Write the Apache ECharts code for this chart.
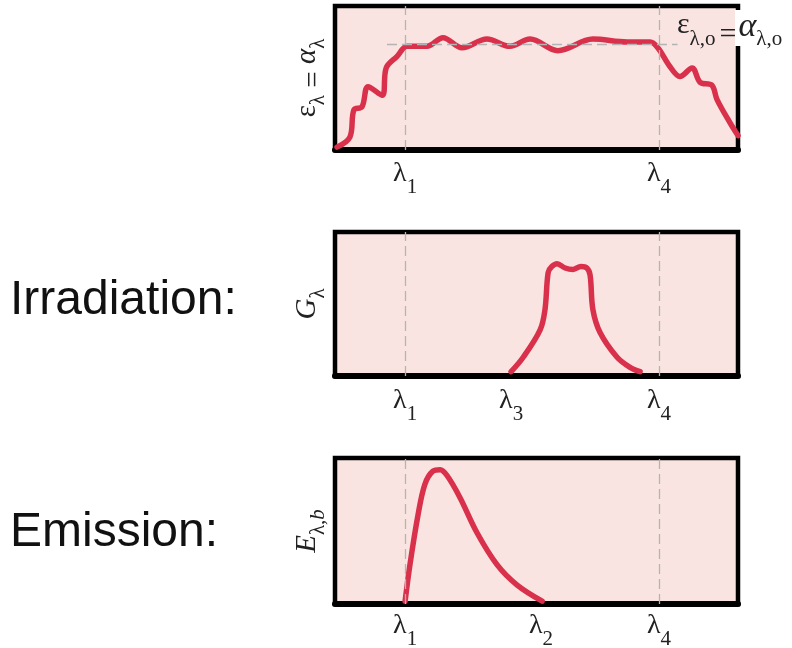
<!DOCTYPE html>
<html><head><meta charset="utf-8">
<script src="https://cdn.jsdelivr.net/npm/echarts@6/dist/echarts.min.js"></script>
<style>html,body{margin:0;padding:0;background:#fff}#c{width:792px;height:648px}</style>
</head><body><div id="c"></div>
<script>
// Panel 1: spectral emissivity / absorptivity
const emisX = [0.5, 3.7, 4.7, 6.7, 8.2, 11.7, 12.7, 15.4, 17.9, 22.8, 26.8, 31.5, 37.7, 43.4, 48.4, 55.3, 64.0, 72.5, 78.2, 80.1, 83.1, 85.6, 88.6, 90.6, 93.5, 94.8, 98.0, 100];
const emisY = [2, 9, 28, 30, 44, 38, 57, 65, 72, 72, 78, 71, 77, 72, 77, 69, 77, 75, 75, 71, 58, 51, 57, 47, 45, 35, 19, 10];
// Panel 2: irradiation
const irrX = [43.7, 46.7, 50.9, 52.1, 52.9, 53.8, 55.1, 57.1, 59.1, 61.0, 62.5, 63.3, 64.0, 65.8, 70.0, 73.2, 75.7];
const irrY = [3, 13, 32, 46, 72, 76, 78, 75, 74, 76, 75, 70, 46, 30, 13, 6, 3];
// Panel 3: blackbody emission
const embX = [17.4, 18.6, 20.6, 22.3, 24.3, 26.1, 27.8, 31.0, 35.2, 40.2, 45.2, 51.4];
const embY = [2, 27, 61, 82, 91, 92, 88, 73, 49, 27, 13, 2];
// Tick labels (subscripts of lambda)
const ticks1 = [17.4, 80.4], names1 = ['1', '4'];
const ticks2 = [17.4, 43.7, 80.4], names2 = ['1', '3', '4'];
const ticks3 = [17.4, 51.1, 80.4], names3 = ['1', '2', '4'];
const dashX = [17.4, 80.4];
const plateauLine = [[12.9, 73.6], [85.0, 73.6]];

const PINK = '#f9e4e1', RED = '#d9304b', DASH = '#b4b4b4';
const SERIF = '"Liberation Serif","DejaVu Serif",serif';

const chart = echarts.init(document.getElementById('c'));
const pairs = (xs, ys) => xs.map((x, i) => [x, ys[i]]);

const grids = [
  {left: 335, top: 6, width: 403, height: 144},
  {left: 335, top: 232, width: 403, height: 144},
  {left: 335, top: 458, width: 403, height: 146}
].map(g => Object.assign(g, {show: true, backgroundColor: PINK, borderColor: '#000', borderWidth: 4.5, containLabel: false, outerBoundsMode: 'none'}));

const tickRich = {
  l: {fontFamily: SERIF, fontSize: 28, lineHeight: 30, verticalAlign: 'top', color: '#222'},
  s: {fontFamily: SERIF, fontSize: 21, lineHeight: 38, verticalAlign: 'bottom', color: '#222'}
};
function xAx(idx, ticks, names, margin) {
  return {
    gridIndex: idx, type: 'value', min: 0, max: 100,
    axisLine: {show: true, onZero: false, lineStyle: {color: '#000', width: 6}},
    axisTick: {show: false}, splitLine: {show: false},
    axisLabel: {
      show: true, customValues: ticks, margin: margin, rich: tickRich,
      formatter: v => { const i = ticks.findIndex(t => Math.abs(t - v) < 1e-6); return '{l|λ}{s|' + names[i] + '}'; }
    }
  };
}
const nameRich = {
  m: {fontFamily: SERIF, fontSize: 29, lineHeight: 30, verticalAlign: 'top', color: '#222'},
  q: {fontFamily: SERIF, fontSize: 29, lineHeight: 34, verticalAlign: 'bottom', color: '#222'},
  i: {fontFamily: SERIF, fontStyle: 'italic', fontSize: 29, lineHeight: 30, verticalAlign: 'top', color: '#222'},
  s: {fontFamily: SERIF, fontSize: 21, lineHeight: 36, verticalAlign: 'bottom', color: '#222'},
  si: {fontFamily: SERIF, fontStyle: 'italic', fontSize: 21, lineHeight: 36, verticalAlign: 'bottom', color: '#222'}
};
function yAx(idx, name) {
  return {
    gridIndex: idx, type: 'value', min: 0, max: 100,
    axisLine: {show: false}, axisTick: {show: false}, axisLabel: {show: false}, splitLine: {show: false},
    name: name, nameLocation: 'middle', nameRotate: 90, nameGap: 6,
    nameTextStyle: {rich: nameRich}
  };
}
const dashStyle = {type: [10, 5], color: DASH, width: 1.3};
function guide(idx, extra) {
  const data = dashX.map(x => ({xAxis: x}));
  if (extra) data.push([{coord: extra[0]}, {coord: extra[1]}]);
  return {
    type: 'line', xAxisIndex: idx, yAxisIndex: idx, data: [], z: 1,
    markLine: {silent: true, symbol: ['none', 'none'], label: {show: false}, lineStyle: dashStyle, data: data}
  };
}
function curve(idx, xs, ys) {
  return {
    type: 'line', xAxisIndex: idx, yAxisIndex: idx, data: pairs(xs, ys), z: 3,
    smooth: 0.35, showSymbol: false, symbol: 'none',
    lineStyle: {color: RED, width: 5.5, cap: 'round', join: 'round'}
  };
}

chart.setOption({
  animation: false,
  grid: grids,
  xAxis: [xAx(0, ticks1, names1, 10), xAx(1, ticks2, names2, 11), xAx(2, ticks3, names3, 8)],
  yAxis: [
    yAx(0, '{m|ε}{s|λ}{q| = }{i|α}{s|λ}'),
    yAx(1, '{i|G}{s|λ}'),
    yAx(2, '{i|E}{s|λ,}{si|b}')
  ],
  series: [
    guide(0, plateauLine), curve(0, emisX, emisY),
    guide(1), curve(1, irrX, irrY),
    guide(2), curve(2, embX, embY)
  ],
  graphic: [
    {type: 'rect', shape: {x: 735, y: 10, width: 10, height: 36}, style: {fill: '#fff'}, z: 100},
    {type: 'text', x: 677, y: 10, z: 101, style: {
      text: '{m|ε}{s|λ,o}{q|=}{i|α}{s|λ,o}', rich: {
        m: {fontFamily: SERIF, fontSize: 30, lineHeight: 32, verticalAlign: 'top', fill: '#222'},
        q: {fontFamily: SERIF, fontSize: 30, lineHeight: 36, verticalAlign: 'bottom', fill: '#222', padding: [0, 2, 0, 4]},
        i: {fontFamily: SERIF, fontStyle: 'italic', fontSize: 34, lineHeight: 32, verticalAlign: 'top', fill: '#222'},
        s: {fontFamily: SERIF, fontSize: 21, lineHeight: 40, verticalAlign: 'bottom', fill: '#222'}
      }}},
    {type: 'text', x: 10, y: 301, z: 101, style: {text: 'Irradiation:', font: '48px "Liberation Sans", Arial, sans-serif', fill: '#111', verticalAlign: 'middle'}},
    {type: 'text', x: 10, y: 533, z: 101, style: {text: 'Emission:', font: '48px "Liberation Sans", Arial, sans-serif', fill: '#111', verticalAlign: 'middle'}}
  ]
});
</script></body></html>
